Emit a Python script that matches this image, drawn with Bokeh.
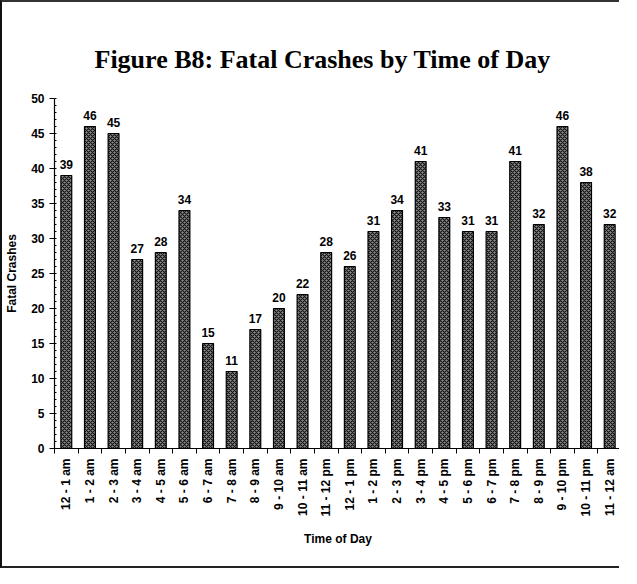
import math
from bokeh.plotting import figure
from bokeh.models import ColumnDataSource, FixedTicker, SingleIntervalTicker, Range1d
from bokeh.core.properties import value
from bokeh.embed import file_html
from bokeh.resources import INLINE

categories = ["12 - 1 am", "1 - 2 am", "2 - 3 am", "3 - 4 am", "4 - 5 am", "5 - 6 am",
              "6 - 7 am", "7 - 8 am", "8 - 9 am", "9 - 10 am", "10 - 11 am", "11 - 12 pm",
              "12 - 1 pm", "1 - 2 pm", "2 - 3 pm", "3 - 4 pm", "4 - 5 pm", "5 - 6 pm",
              "6 - 7 pm", "7 - 8 pm", "8 - 9 pm", "9 - 10 pm", "10 - 11 pm", "11 - 12 am"]
crashes = [39, 46, 45, 27, 28, 34, 15, 11, 17, 20, 22, 28,
           26, 31, 34, 41, 33, 31, 31, 41, 32, 46, 38, 32]
title_text = "Figure B8: Fatal Crashes by Time of Day"
x_title = "Time of Day"
y_title = "Fatal Crashes"
y_max = 50
y_step = 5

n = len(categories)
xs = list(range(n))
src = ColumnDataSource(dict(x=xs, top=crashes, lab=[str(v) for v in crashes]))

p = figure(width=619, height=568, output_backend="svg", toolbar_location=None,
           x_range=Range1d(-0.5, n - 0.5), y_range=Range1d(0, y_max),
           min_border_left=52, min_border_right=0, min_border_top=96, min_border_bottom=122)
p.background_fill_color = "white"
p.border_fill_color = "white"
p.outline_line_color = None
p.grid.visible = False
p.styles = {"border-left": "2px solid #111", "border-top": "2px solid #333",
            "border-bottom": "2px solid #222"}

p.title.text = title_text
p.title.text_font = "Liberation Serif"
p.title.text_font_size = "26px"
p.title.text_font_style = "bold"
p.title.text_color = "black"
p.title.align = "left"
p.title.offset = 40
p.title.standoff = 50

p.vbar(x="x", top="top", width=0.46, source=src, fill_color="#8c8c8c",
       hatch_pattern="x", hatch_color="#111111", hatch_scale=4, hatch_weight=1.1,
       line_color="black", line_width=1.2)
p.text(x="x", y="top", text="lab", source=src, y_offset=-7, text_align="center",
       text_baseline="bottom", text_font=value("Liberation Sans"), text_font_size="12px",
       text_font_style="bold", text_color="black")

xa = p.xaxis[0]
xa.ticker = FixedTicker(ticks=xs, minor_ticks=[i - 0.5 for i in range(n + 1)])
xa.major_label_overrides = {i: c for i, c in enumerate(categories)}
xa.major_label_orientation = math.pi / 2
xa.major_tick_out = 0
xa.major_tick_in = 0
xa.minor_tick_out = 5
xa.minor_tick_in = 0
xa.major_label_standoff = 5
xa.axis_label = x_title
xa.axis_label_standoff = 12

ya = p.yaxis[0]
ya.ticker = SingleIntervalTicker(interval=y_step, num_minor_ticks=5)
ya.major_tick_out = 5
ya.major_tick_in = 0
ya.minor_tick_out = 0
ya.minor_tick_in = 2
ya.major_label_standoff = 5
ya.axis_label = y_title
ya.axis_label_standoff = 9

for ax in (xa, ya):
    ax.axis_line_color = "black"
    ax.axis_line_width = 1.2
    ax.major_tick_line_color = "black"
    ax.minor_tick_line_color = "black"
    ax.major_label_text_font = "Liberation Sans"
    ax.major_label_text_font_size = "12px"
    ax.major_label_text_font_style = "bold"
    ax.major_label_text_color = "black"
    ax.axis_label_text_font = "Liberation Sans"
    ax.axis_label_text_font_size = "12px"
    ax.axis_label_text_font_style = "bold"
    ax.axis_label_text_color = "black"

open("out.html", "w").write(file_html(p, INLINE))
